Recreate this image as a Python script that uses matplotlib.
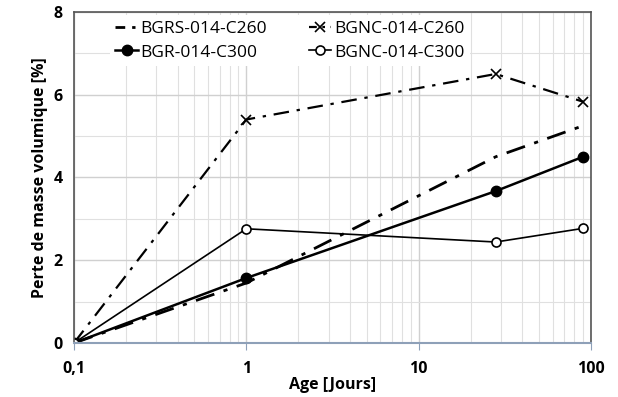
import matplotlib.pyplot as plt
from matplotlib.lines import Line2D
from matplotlib.ticker import FixedLocator, LogLocator, NullFormatter

plt.rcParams['font.family'] = ['Open Sans', 'DejaVu Sans']

age = [0.1, 1, 28, 90]
bgrs_c260 = [0.0, 1.45, 4.5, 5.25]
bgnc_c260 = [0.0, 5.4, 6.5, 5.83]
bgr_c300 = [0.0, 1.57, 3.67, 4.5]
bgnc_c300 = [0.0, 2.76, 2.44, 2.77]

x_ticks = [0.1, 1, 10, 100]
x_labels = ['0,1', '1', '10', '100']
y_ticks = [0, 2, 4, 6, 8]

fig = plt.figure(figsize=(6.18, 3.97), dpi=100)
ax = fig.add_axes([0.1197, 0.136, 0.8366, 0.834])

dashdot = (0, (7, 3.5, 1.5, 3.5))
l1, = ax.plot(age, bgrs_c260, color='black', lw=2, linestyle=dashdot)
l2, = ax.plot(age, bgnc_c260, color='black', lw=1.6, linestyle=dashdot,
              marker='x', ms=7, mew=1.2)
l3, = ax.plot(age, bgr_c300, color='black', lw=1.8, marker='o', ms=7.5)
l4, = ax.plot(age, bgnc_c300, color='black', lw=1.2, marker='o', ms=6.5,
              mfc='white', mew=1.2)

# shorter dash pattern for the legend keys so the "- ." shows
short_dd = (0, (3.5, 2.5, 1.2, 2.5))
h1 = Line2D([], [], color='black', lw=2, linestyle=short_dd)
h2 = Line2D([], [], color='black', lw=1.6, linestyle=short_dd, marker='x', ms=7, mew=1.2)

ax.set_xscale('log')
ax.set_xlim(0.1, 100)
ax.set_ylim(0, 8)
ax.xaxis.set_major_locator(FixedLocator(x_ticks))
ax.set_xticklabels(x_labels)
ax.xaxis.set_minor_locator(LogLocator(base=10, subs=range(2, 10)))
ax.xaxis.set_minor_formatter(NullFormatter())
ax.set_yticks(y_ticks)
ax.yaxis.set_minor_locator(FixedLocator([1, 3, 5, 7]))

ax.grid(True, which='major', color='#d0d0d0', lw=1.0)
ax.grid(True, which='minor', color='#e0e0e0', lw=0.8)
ax.set_axisbelow(True)

for lab in ax.get_xticklabels() + ax.get_yticklabels():
    lab.set_fontweight('bold')
    lab.set_fontsize(11.5)
ax.tick_params(axis='x', which='major', length=5, color='#8ea0b8', pad=8)
ax.tick_params(axis='x', which='minor', length=0)
ax.tick_params(axis='y', which='both', length=0, pad=8)

for s in ('top', 'right', 'left'):
    ax.spines[s].set_color('#555555')
    ax.spines[s].set_linewidth(1.2)
ax.spines['bottom'].set_color('#8ea0b8')
ax.spines['bottom'].set_linewidth(1.5)

ax.set_xlabel('Age [Jours]', fontsize=11.5, fontweight='bold', labelpad=0)
ax.set_ylabel('Perte de masse volumique [%]', fontsize=11.5, fontweight='bold')

leg = ax.legend([h1, l3, h2, l4],
                ['BGRS-014-C260', 'BGR-014-C300', 'BGNC-014-C260', 'BGNC-014-C300'],
                ncol=2, loc='upper left', bbox_to_anchor=(0.07, 0.99),
                frameon=True, framealpha=1, edgecolor='none', fontsize=12.5,
                handlelength=1.3, handletextpad=0.15, columnspacing=2.4,
                labelspacing=0.45, borderpad=0.3, borderaxespad=0.0, fancybox=False)

fig.savefig('out.png', dpi=100)
